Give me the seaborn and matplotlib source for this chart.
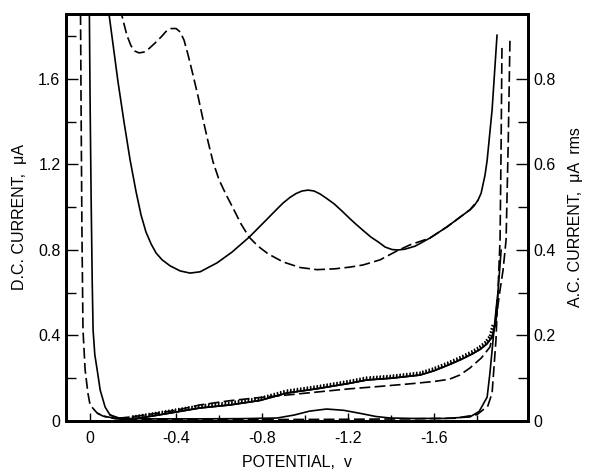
import matplotlib
matplotlib.use("Agg")
import matplotlib.pyplot as plt
import matplotlib.patheffects as pe
from matplotlib.ticker import FixedLocator
import seaborn as sns

# ---- A.C. polarograms (right axis, uA rms) ----
ac_sample_v = [-0.084, -0.088, -0.107, -0.130, -0.158, -0.186, -0.214, -0.237, -0.260,
               -0.284, -0.307, -0.335, -0.372, -0.419, -0.465, -0.512, -0.591, -0.660,
               -0.740, -0.819, -0.860, -0.898, -0.930, -0.958, -0.986, -1.014, -1.042,
               -1.070, -1.102, -1.135, -1.172, -1.209, -1.242, -1.274, -1.307, -1.340,
               -1.372, -1.405, -1.433, -1.465, -1.512, -1.581, -1.660, -1.767, -1.786,
               -1.805, -1.819, -1.837, -1.847, -1.870, -1.893]
ac_sample_i = [0.973, 0.952, 0.880, 0.793, 0.699, 0.611, 0.536, 0.482, 0.442,
               0.414, 0.393, 0.377, 0.363, 0.351, 0.346, 0.349, 0.370, 0.395,
               0.430, 0.470, 0.491, 0.510, 0.523, 0.532, 0.538, 0.540, 0.538,
               0.531, 0.520, 0.508, 0.491, 0.473, 0.458, 0.444, 0.430, 0.419,
               0.407, 0.401, 0.400, 0.402, 0.409, 0.428, 0.454, 0.494, 0.503,
               0.517, 0.533, 0.575, 0.610, 0.728, 0.903]

ac_blank_v = [-0.140, -0.153, -0.172, -0.191, -0.209, -0.228, -0.251, -0.274, -0.302,
              -0.330, -0.353, -0.377, -0.400, -0.419, -0.437, -0.456, -0.479, -0.502,
              -0.526, -0.549, -0.572, -0.600, -0.633, -0.665, -0.702, -0.740, -0.781,
              -0.828, -0.898, -0.977, -1.056, -1.140, -1.209, -1.270, -1.349, -1.428,
              -1.488, -1.581, -1.660, -1.767, -1.805]
ac_blank_i = [0.966, 0.938, 0.901, 0.877, 0.865, 0.861, 0.863, 0.871, 0.884,
              0.898, 0.911, 0.918, 0.918, 0.910, 0.891, 0.856, 0.809, 0.760,
              0.704, 0.653, 0.606, 0.564, 0.529, 0.498, 0.461, 0.430, 0.409,
              0.391, 0.372, 0.359, 0.354, 0.356, 0.360, 0.365, 0.377, 0.398,
              0.412, 0.428, 0.454, 0.494, 0.517]

# ---- D.C. polarograms (left axis, uA) ----
dc_sample_v = [0.004, 0.0, -0.005, -0.01, -0.014, -0.022, -0.033, -0.047, -0.07, -0.093,
               -0.14, -0.19, -0.30, -0.40, -0.512, -0.65, -0.79, -0.916, -1.05, -1.20,
               -1.288, -1.40, -1.535, -1.60, -1.674, -1.73, -1.78, -1.814, -1.845,
               -1.87, -1.884, -1.898, -1.912]
dc_sample_i = [2.0, 1.5, 1.034, 0.65, 0.426, 0.31, 0.239, 0.145, 0.065, 0.028,
               0.009, 0.008, 0.025, 0.042, 0.061, 0.075, 0.096, 0.131, 0.15, 0.175,
               0.192, 0.20, 0.215, 0.235, 0.265, 0.29, 0.315, 0.335, 0.36,
               0.393, 0.449, 0.613, 0.80]

dc_blank_v = [0.045, 0.042, 0.038, 0.033, 0.023, 0.01, 0.0, -0.033, -0.06, -0.12,
              -0.20, -0.30, -0.40, -0.51, -0.65, -0.79, -0.90, -1.05, -1.20, -1.35,
              -1.50, -1.60, -1.67, -1.72, -1.767, -1.82, -1.86, -1.888, -1.905,
              -1.921, -1.935, -1.945, -1.953]
dc_blank_i = [2.0, 1.5, 0.9, 0.426, 0.239, 0.13, 0.075, 0.037, 0.023, 0.012,
              0.02, 0.035, 0.05, 0.075, 0.095, 0.11, 0.12, 0.135, 0.15, 0.162,
              0.175, 0.185, 0.195, 0.215, 0.248, 0.295, 0.346, 0.47, 0.60,
              0.706, 0.847, 1.30, 1.78]

# in-phase trace with small wave near -1.1 V
wave_v = [-0.093, -0.14, -0.30, -0.50, -0.70, -0.87, -0.95, -1.02, -1.10, -1.18,
          -1.26, -1.33, -1.395, -1.50, -1.65, -1.767, -1.81, -1.847, -1.86,
          -1.879, -1.893]
wave_i = [0.028, 0.012, 0.01, 0.01, 0.011, 0.014, 0.028, 0.046, 0.056, 0.05,
          0.035, 0.021, 0.014, 0.012, 0.012, 0.019, 0.045, 0.112, 0.225,
          0.426, 0.566]

flat_v = [-0.033, -0.06, -0.12, -0.30, -0.60, -0.90, -1.20, -1.50, -1.70,
          -1.80, -1.85, -1.87, -1.888, -1.907, -1.912, -1.916]
flat_i = [0.037, 0.023, 0.01, 0.006, 0.006, 0.007, 0.008, 0.01, 0.013,
          0.03, 0.07, 0.131, 0.379, 0.847, 1.30, 1.76]

x_ticks = [0.0, -0.4, -0.8, -1.2, -1.6]
x_tick_labels = ["0", "-0.4", "-0.8", "-1.2", "-1.6"]
dc_ticks = [0.0, 0.4, 0.8, 1.2, 1.6]
dc_tick_labels = ["0", "0.4", "0.8", "1.2", "1.6"]
ac_ticks = [0.0, 0.2, 0.4, 0.6, 0.8]
ac_tick_labels = ["0", "0.2", "0.4", "0.6", "0.8"]

sns.set_style("ticks")
plt.rcParams["font.family"] = ["Liberation Sans", "DejaVu Sans"]
for key in ("text.color", "axes.labelcolor", "xtick.color", "ytick.color",
            "axes.edgecolor"):
    plt.rcParams[key] = "black"

fig = plt.figure(figsize=(5.91, 4.73), dpi=100)
ax = fig.add_axes([66 / 591, 1 - 421 / 473, (528 - 66) / 591, (421 - 14) / 473])
ax2 = ax.twinx()

K = "black"
LW = 1.2
DASH = (0, (6.5, 2.6))

# D.C. traces
sns.lineplot(x=dc_sample_v, y=dc_sample_i, ax=ax, sort=False, estimator=None,
             color=K, lw=LW)
sns.lineplot(x=dc_sample_v[11:31], y=dc_sample_i[11:31], ax=ax, sort=False,
             estimator=None, color=K, lw=LW,
             path_effects=[pe.withTickedStroke(spacing=2.4, length=0.9, angle=80)])
sns.lineplot(x=dc_blank_v, y=dc_blank_i, ax=ax, sort=False, estimator=None,
             color=K, lw=LW, linestyle=DASH)
sns.lineplot(x=wave_v, y=wave_i, ax=ax, sort=False, estimator=None,
             color=K, lw=LW)
sns.lineplot(x=flat_v, y=flat_i, ax=ax, sort=False, estimator=None,
             color=K, lw=LW, linestyle=DASH)

# A.C. traces
sns.lineplot(x=ac_sample_v, y=ac_sample_i, ax=ax2, sort=False, estimator=None,
             color=K, lw=LW)
sns.lineplot(x=ac_blank_v, y=ac_blank_i, ax=ax2, sort=False, estimator=None,
             color=K, lw=LW, linestyle=DASH)

ax.set_xlim(0.112, -2.037)
ax.set_ylim(0, 1.904)
ax2.set_ylim(0, 0.952)

ax.set_xticks(x_ticks)
ax.set_xticklabels(x_tick_labels)
ax.xaxis.set_minor_locator(FixedLocator([-0.2, -0.6, -1.0, -1.4, -1.8]))
ax.set_yticks(dc_ticks)
ax.set_yticklabels(dc_tick_labels)
ax.yaxis.set_minor_locator(FixedLocator([0.2, 0.6, 1.0, 1.4, 1.8]))
ax2.set_yticks(ac_ticks)
ax2.set_yticklabels(ac_tick_labels)
ax2.yaxis.set_minor_locator(FixedLocator([0.1, 0.3, 0.5, 0.7]))

for a in (ax, ax2):
    for s in a.spines.values():
        s.set_linewidth(2.0)
        s.set_color(K)

ax.tick_params(axis="y", which="major", direction="in", length=8.5, width=1.0,
               labelsize=11.5, pad=4, right=False, colors=K)
ax.tick_params(axis="y", which="minor", direction="in", length=7, width=1.0,
               right=False, colors=K)
ax.tick_params(axis="x", which="major", direction="in", length=6, width=1.0,
               labelsize=11.5, pad=7, top=False, colors=K)
ax.tick_params(axis="x", which="minor", direction="in", length=4, width=1.0,
               top=False, colors=K)
ax2.tick_params(axis="y", which="major", direction="in", length=8.5, width=1.0,
                labelsize=11.5, pad=4, colors=K)
ax2.tick_params(axis="y", which="minor", direction="in", length=7, width=1.0, colors=K)

ax.set_xlabel("POTENTIAL,  v", fontsize=11.5, labelpad=7, color=K)
ax.set_ylabel("D.C. CURRENT,  \u03bcA", fontsize=11.5, labelpad=8, color=K)
ax2.set_ylabel("A.C. CURRENT,  \u03bcA  rms", fontsize=11.5, labelpad=9, color=K)

fig.savefig("out.png", dpi=100)
